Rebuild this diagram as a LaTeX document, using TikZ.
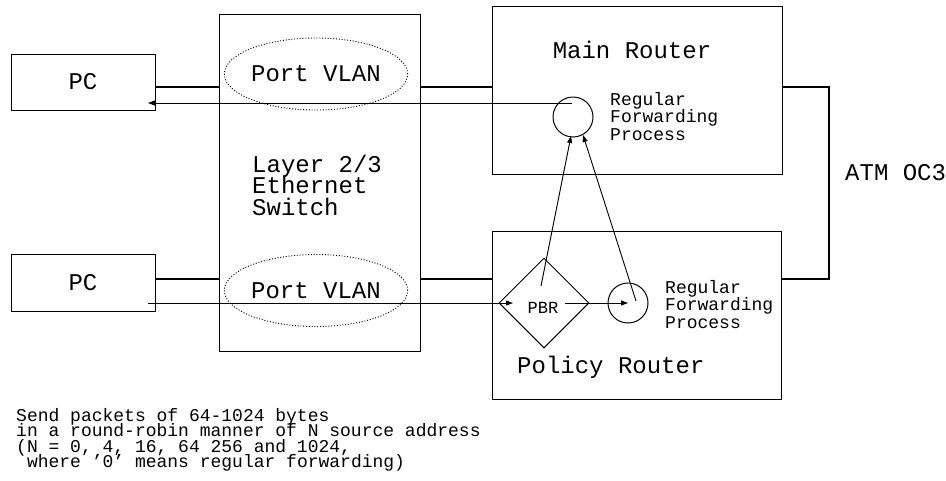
\documentclass[tikz,border=0pt]{standalone}
\usepackage{fontspec}
\setmainfont{Liberation Mono}
\usetikzlibrary{arrows.meta,shapes.geometric}
\begin{document}
\begin{tikzpicture}[x=1pt,y=-1pt,
  box/.style={draw, line width=1pt, rectangle, inner sep=0pt},
  bigtext/.style={font={\fontsize{24}{21.5}\selectfont\lineskiplimit=-30pt}},
  smalltext/.style={font={\fontsize{18}{17.5}\selectfont\lineskiplimit=-30pt}},
  notetext/.style={font={\fontsize{18}{15.5}\selectfont\lineskiplimit=-30pt}},
  textblock/.style={inner sep=0pt, align=left, anchor=base west},
  link/.style={line width=2.4pt},
  flow/.style={line width=0.9pt, -{Triangle[length=7pt,width=5pt]}},
  vlan/.style={ellipse, draw, line width=0.9pt, dash pattern=on 1pt off 1.8pt,
               inner sep=0pt, minimum width=176pt, minimum height=72pt, bigtext},
  proc/.style={circle, draw, line width=1pt, minimum size=40pt, inner sep=0pt}]
\useasboundingbox (0,0) rectangle (946,480);

% hosts
\node[box, minimum width=144pt, minimum height=56pt, bigtext] (pc1) at (83,82) {PC};
\node[box, minimum width=144pt, minimum height=57pt, bigtext] (pc2) at (83,282.5) {PC};

% layer 2/3 switch with its two port VLANs
\node[box, minimum width=201pt, minimum height=337pt] (sw) at (319.5,182.5) {};
\node[vlan] (vlan1) at (316,74) {Port VLAN};
\node[vlan] (vlan2) at (316,290.5) {Port VLAN};
% multi-line blocks are placed by the baseline of their last line
\node[textblock, bigtext] (swlabel) at (252,215) {Layer 2/3\\Ethernet\\Switch};

% routers
\node[box, minimum width=290pt, minimum height=168pt] (mainr) at (637,90) {};
\node[box, minimum width=289pt, minimum height=168pt] (polr) at (636.5,315) {};
\node[bigtext, inner sep=0pt, anchor=base] (mainlabel) at (632,58) {Main Router};
\node[textblock, bigtext] (pollabel) at (517,373) {Policy Router};

% forwarding processes
\node[proc] (rfp1) at (573,117) {};
\node[textblock, smalltext] (rfp1label) at (610,140) {Regular\\Forwarding\\Process};
\node[proc] (rfp2) at (628,303) {};
\node[textblock, smalltext] (rfp2label) at (665,328) {Regular\\Forwarding\\Process};
\node[diamond, draw, line width=1pt, minimum width=90pt, minimum height=90pt,
      inner sep=0pt] (pbr) at (544,303) {};
\node[font=\fontsize{17}{17}\selectfont, inner sep=1pt] (pbrtext) at (543,308) {PBR};

% ATM OC3 trunk label
\node[textblock, bigtext] (atm) at (845,180) {ATM OC3};

% physical links
\coordinate (upper) at (0,87);
\coordinate (lower) at (0,279);
\coordinate (trunk) at (829,180);
\draw[link] (pc1.east |- upper) -- (sw.west |- upper);
\draw[link] (sw.east |- upper) -- (mainr.west |- upper);
\draw[link] (pc2.east |- lower) -- (sw.west |- lower);
\draw[link] (sw.east |- lower) -- (polr.west |- lower);
\draw[link] (mainr.east |- upper) -| (trunk) |- (polr.east |- lower);

% packet flow
\coordinate (inStart) at (148,303);
\coordinate (inEnd) at (513,303);
\coordinate (retStart) at (572,103);
\coordinate (retEnd) at (148,103);
\coordinate (pbrOut) at (565,303);
\coordinate (pbrUp) at (541,286);
\coordinate (polUp) at (636,301);
\coordinate (mainInA) at (571,136);
\coordinate (mainInB) at (583,135);
\draw[flow] (inStart) -- (inEnd);
\draw[flow] (pbrOut) -- (rfp2.center);
\draw[flow] (pbrUp) -- (mainInA);
\draw[flow] (polUp) -- (mainInB);
\draw[flow] (retStart) -- (retEnd);

% test description
\node[textblock, notetext] (note) at (16,467.5)
  {Send packets of 64-1024 bytes\\
   in a round-robin manner of N source address\\
   (N = 0, 4, 16, 64 256 and 1024,\\
   ~where ’0’ means regular forwarding)};
\end{tikzpicture}
\end{document}
